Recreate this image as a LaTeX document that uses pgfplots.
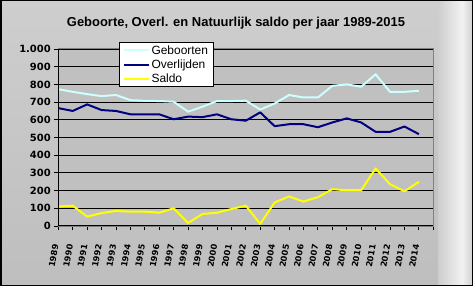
\documentclass[border=0pt]{standalone}
\usepackage{fontspec}
\setmainfont{Liberation Sans}
\newfontfamily\dejavu{DejaVu Sans}
\usepackage{pgfplots}
\pgfplotsset{compat=1.18}
\definecolor{geb}{RGB}{204,255,255}
\definecolor{ovl}{RGB}{0,0,128}
\definecolor{sal}{RGB}{255,255,0}
\definecolor{plotbg}{RGB}{192,192,192}
\definecolor{bgtop}{RGB}{206,206,206}
\definecolor{bgbot}{RGB}{190,190,190}
\definecolor{bgl}{RGB}{242,242,242}
\definecolor{frame}{RGB}{128,128,128}
\begin{document}
\begin{tikzpicture}
\useasboundingbox (0bp,0bp) rectangle (473bp,286bp);
\shade[top color=bgtop, bottom color=bgbot] (0bp,0bp) rectangle (473bp,286bp);
\shade[left color=bgtop, right color=bgl] (438bp,0bp) rectangle (462bp,286bp);
\shade[left color=bgl, right color=bgtop] (462bp,0bp) rectangle (473bp,286bp);
\node[font=\bfseries\fontsize{13}{15}\selectfont] at (236bp,263bp) {Geboorte, Overl. en Natuurlijk saldo per jaar 1989-2015};
\begin{axis}[
  at={(58.3bp,60bp)}, anchor=south west, scale only axis,
  width=375bp, height=177bp,
  xmin=1989, xmax=2015, ymin=0, ymax=1000,
  xtick={1989,1990,1991,1992,1993,1994,1995,1996,1997,1998,1999,2000,2001,2002,2003,2004,2005,2006,2007,2008,2009,2010,2011,2012,2013,2014,2015},
  xticklabels={1989,1990,1991,1992,1993,1994,1995,1996,1997,1998,1999,2000,2001,2002,2003,2004,2005,2006,2007,2008,2009,2010,2011,2012,2013,2014,{}},
  ytick={0,100,...,1000},
  ymajorgrids,
  major grid style={black, line width=0.9bp},
  axis background/.style={fill=plotbg},
  axis line style={draw=frame, line width=1bp},
  tick align=outside, xtick pos=bottom, ytick pos=left,
  major tick length=4bp,
  tick style={black, line width=0.9bp},
  yticklabel style={font=\dejavu\bfseries\fontsize{10}{12}\selectfont},
  xticklabel style={font=\dejavu\bfseries\fontsize{8.4}{10}\selectfont, yshift=-11bp, xshift=-2bp, rotate=80, anchor=east},
  /pgf/number format/1000 sep={.},
  /pgf/number format/assume math mode=true,
  legend style={at={(0.162,1.04)}, anchor=north west, fill=white, draw=black, line width=1bp,
    font=\fontsize{12}{14}\selectfont, inner xsep=3bp, inner ysep=1bp, row sep=0bp},
  legend cell align=left,
  legend image code/.code={\draw[#1, line width=2bp] (0bp,0bp) -- (25bp,0bp);},
  every axis plot/.append style={line width=2bp, line join=round},
]
\addplot[geb] coordinates {(1989,773)(1990,758)(1991,745)(1992,734)(1993,740)(1994,711)(1995,707)(1996,706)(1997,702)(1998,646)(1999,674)(2000,706)(2001,706)(2002,708)(2003,658)(2004,692)(2005,740)(2006,726)(2007,726)(2008,792)(2009,800)(2010,787)(2011,857)(2012,758)(2013,758)(2014,764)};
\addlegendentry{Geboorten}
\addplot[ovl] coordinates {(1989,666)(1990,650)(1991,687)(1992,655)(1993,650)(1994,631)(1995,631)(1996,631)(1997,603)(1998,618)(1999,615)(2000,631)(2001,603)(2002,595)(2003,642)(2004,564)(2005,575)(2006,575)(2007,558)(2008,585)(2009,608)(2010,585)(2011,532)(2012,532)(2013,562)(2014,519)};
\addlegendentry{Overlijden}
\addplot[sal] coordinates {(1989,110)(1990,115)(1991,53)(1992,73)(1993,85)(1994,81)(1995,81)(1996,75)(1997,100)(1998,17)(1999,68)(2000,75)(2001,96)(2002,115)(2003,12)(2004,133)(2005,167)(2006,138)(2007,163)(2008,208)(2009,202)(2010,202)(2011,325)(2012,236)(2013,196)(2014,250)};
\addlegendentry{Saldo}
\end{axis}
\draw[black, line width=1bp] (58.3bp,237bp) -- (58.3bp,60bp) -- (433.3bp,60bp);
\draw[black, line width=1.5bp] (0.75bp,0.75bp) rectangle (472.25bp,285.25bp);
\end{tikzpicture}
\end{document}
